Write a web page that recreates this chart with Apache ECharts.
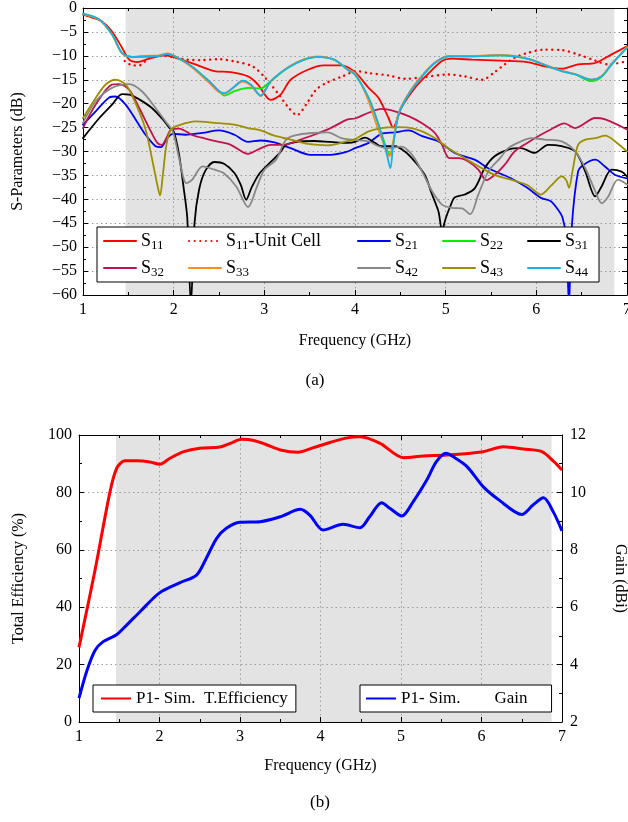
<!DOCTYPE html>
<html>
<head>
<meta charset="utf-8">
<script src="https://cdn.jsdelivr.net/npm/echarts@6/dist/echarts.min.js"></script>
<style>
  html, body { margin: 0; padding: 0; background: #fff; }
  #chart { width: 628px; height: 822px; }
</style>
</head>
<body>
<div id="chart"></div>
<script>
// ---------- (a) S-parameters, [frequency GHz, dB] ----------
const s11 = [[1.0,-1.4],[1.1,-2.0],[1.21,-2.8],[1.32,-4.9],[1.43,-8.3],[1.51,-10.8],[1.6,-11.3],[1.73,-10.6],[1.91,-9.9],[2.02,-10.4],[2.24,-11.8],[2.45,-13.2],[2.63,-13.4],[2.82,-14.3],[2.93,-16.0],[3.07,-19.2],[3.18,-18.1],[3.29,-15.0],[3.48,-12.9],[3.66,-12.0],[3.85,-12.0],[4.0,-13.4],[4.15,-16.7],[4.26,-18.8],[4.37,-23.0],[4.42,-25.0],[4.51,-20.9],[4.66,-16.7],[4.8,-13.9],[4.96,-11.1],[5.07,-10.6],[5.29,-10.8],[5.6,-11.0],[5.9,-11.3],[6.09,-12.2],[6.28,-12.7],[6.46,-11.8],[6.65,-11.5],[6.83,-9.7],[7.0,-8.0]];
const s11Cell = [[1.46,-11.1],[1.55,-12.0],[1.62,-12.0],[1.73,-10.5],[1.9,-10.0],[2.02,-10.4],[2.15,-10.8],[2.3,-10.9],[2.5,-10.7],[2.68,-11.2],[2.87,-12.2],[3.01,-14.6],[3.16,-18.1],[3.27,-20.9],[3.36,-22.4],[3.46,-20.2],[3.57,-17.1],[3.68,-15.7],[3.86,-14.3],[4.02,-13.2],[4.15,-13.6],[4.37,-14.1],[4.55,-14.8],[4.74,-14.5],[5.03,-13.9],[5.21,-14.3],[5.4,-15.0],[5.54,-13.4],[5.65,-11.8],[5.76,-10.4],[5.9,-9.4],[6.09,-8.7],[6.28,-8.8],[6.46,-9.7],[6.65,-11.0],[6.8,-11.8],[7.0,-11.1]];
const s21 = [[1.0,-24.4],[1.14,-21.6],[1.29,-18.7],[1.36,-18.5],[1.47,-20.2],[1.58,-23.3],[1.69,-26.5],[1.8,-28.9],[1.86,-29.1],[1.93,-27.2],[1.99,-26.3],[2.13,-26.5],[2.32,-26.1],[2.5,-25.6],[2.67,-26.5],[2.82,-28.0],[2.96,-27.7],[3.11,-28.1],[3.29,-29.3],[3.51,-30.7],[3.73,-30.7],[3.92,-30.0],[4.0,-29.3],[4.15,-28.2],[4.29,-26.3],[4.44,-26.0],[4.59,-25.6],[4.74,-26.8],[4.92,-27.9],[5.1,-30.3],[5.32,-31.7],[5.47,-33.5],[5.6,-34.6],[5.72,-35.6],[5.9,-37.6],[6.05,-39.7],[6.16,-40.4],[6.24,-42.2],[6.29,-43.9],[6.33,-48.0],[6.36,-62.0],[6.39,-46.0],[6.46,-34.2],[6.52,-32.8],[6.65,-31.7],[6.76,-33.2],[6.87,-34.9],[7.0,-35.6]];
const s22 = [[1.0,-1.2],[1.18,-2.4],[1.32,-5.5],[1.43,-9.4],[1.54,-10.2],[1.69,-10.2],[1.84,-10.0],[1.93,-9.6],[2.02,-10.2],[2.2,-12.2],[2.39,-15.3],[2.5,-17.4],[2.56,-18.3],[2.67,-17.4],[2.82,-16.7],[2.96,-16.8],[3.07,-15.3],[3.26,-12.5],[3.44,-10.8],[3.59,-10.2],[3.77,-10.8],[3.92,-12.9],[4.0,-13.9],[4.15,-18.8],[4.26,-24.4],[4.35,-29.5],[4.39,-30.7],[4.42,-28.5],[4.48,-22.3],[4.59,-18.1],[4.74,-14.3],[4.88,-11.5],[5.03,-10.1],[5.29,-10.1],[5.6,-9.9],[5.76,-10.1],[5.94,-10.8],[6.13,-12.2],[6.28,-13.2],[6.43,-13.9],[6.61,-15.3],[6.72,-14.4],[6.83,-11.8],[7.0,-8.3]];
const s31 = [[1.0,-27.2],[1.18,-23.0],[1.32,-20.2],[1.43,-18.0],[1.51,-18.1],[1.62,-19.1],[1.76,-20.9],[1.88,-23.3],[1.95,-25.0],[2.0,-25.8],[2.06,-30.7],[2.11,-37.6],[2.15,-43.9],[2.19,-62.0],[2.23,-45.0],[2.28,-38.0],[2.35,-34.0],[2.45,-32.2],[2.56,-32.6],[2.67,-34.5],[2.74,-37.0],[2.8,-40.1],[2.86,-37.5],[2.95,-34.5],[3.06,-32.4],[3.17,-30.3],[3.24,-28.6],[3.4,-27.9],[3.55,-27.8],[3.73,-28.0],[3.92,-28.2],[4.0,-28.0],[4.11,-27.1],[4.22,-28.2],[4.29,-28.9],[4.44,-28.9],[4.55,-30.0],[4.66,-32.1],[4.77,-34.9],[4.85,-39.0],[4.92,-42.5],[4.96,-46.5],[5.0,-44.0],[5.05,-41.5],[5.1,-39.6],[5.21,-39.0],[5.32,-37.7],[5.43,-33.5],[5.54,-31.0],[5.69,-29.6],[5.83,-29.3],[5.98,-30.3],[6.13,-28.6],[6.28,-28.9],[6.43,-30.0],[6.54,-34.2],[6.65,-39.4],[6.72,-37.3],[6.83,-33.8],[6.94,-34.2],[7.0,-35.2]];
const s32 = [[1.0,-25.1],[1.14,-20.2],[1.32,-16.0],[1.4,-15.9],[1.51,-17.1],[1.62,-20.9],[1.73,-25.1],[1.82,-28.2],[1.87,-28.6],[1.93,-26.8],[1.97,-25.4],[2.06,-25.2],[2.21,-26.6],[2.35,-27.3],[2.5,-28.0],[2.63,-28.6],[2.82,-30.5],[2.93,-29.6],[3.07,-28.6],[3.22,-28.6],[3.4,-27.5],[3.55,-26.5],[3.73,-25.1],[3.92,-23.3],[4.0,-23.1],[4.15,-21.9],[4.29,-21.1],[4.44,-21.6],[4.59,-22.6],[4.74,-24.1],[4.88,-26.1],[4.96,-28.6],[5.04,-31.4],[5.14,-31.4],[5.25,-32.1],[5.36,-33.8],[5.45,-36.0],[5.54,-34.9],[5.65,-32.8],[5.76,-30.0],[5.9,-28.2],[6.05,-26.5],[6.16,-25.4],[6.31,-24.1],[6.43,-25.1],[6.65,-23.0],[6.76,-23.3],[7.0,-25.4]];
const s33 = [[1.0,-1.3],[1.18,-2.5],[1.32,-5.6],[1.43,-9.5],[1.54,-10.3],[1.69,-10.0],[1.84,-9.9],[1.93,-9.5],[2.02,-10.1],[2.2,-12.4],[2.39,-15.6],[2.5,-17.6],[2.56,-17.9],[2.67,-16.5],[2.76,-15.4],[2.85,-16.2],[2.96,-18.4],[3.07,-15.4],[3.26,-12.4],[3.44,-10.7],[3.59,-10.1],[3.77,-10.8],[3.92,-12.8],[4.0,-13.6],[4.13,-18.5],[4.24,-24.5],[4.33,-29.0],[4.38,-31.0],[4.42,-28.0],[4.48,-22.0],[4.59,-17.9],[4.74,-14.1],[4.88,-11.4],[5.03,-10.0],[5.29,-10.0],[5.6,-9.8],[5.76,-10.0],[5.94,-10.8],[6.13,-12.1],[6.28,-13.1],[6.43,-13.8],[6.61,-15.0],[6.72,-14.2],[6.83,-11.7],[7.0,-8.2]];
const s42 = [[1.0,-24.0],[1.14,-19.5],[1.32,-16.7],[1.51,-15.9],[1.65,-17.4],[1.8,-20.9],[1.91,-23.7],[1.99,-25.8],[2.06,-31.4],[2.14,-36.6],[2.2,-36.0],[2.32,-33.1],[2.45,-33.8],[2.55,-34.5],[2.69,-37.3],[2.82,-41.6],[2.92,-37.3],[3.0,-33.8],[3.13,-31.7],[3.24,-27.5],[3.37,-26.5],[3.55,-26.1],[3.7,-26.0],[3.85,-27.2],[4.0,-27.6],[4.15,-27.9],[4.26,-28.9],[4.37,-29.3],[4.51,-29.0],[4.63,-30.7],[4.74,-34.2],[4.85,-38.3],[4.96,-41.1],[5.07,-41.8],[5.18,-41.9],[5.27,-43.1],[5.36,-39.0],[5.47,-34.2],[5.6,-31.4],[5.69,-29.3],[5.83,-27.9],[5.94,-27.2],[6.09,-27.5],[6.28,-27.9],[6.43,-30.0],[6.54,-33.5],[6.65,-38.3],[6.72,-40.8],[6.79,-39.5],[6.9,-35.9],[7.0,-36.9]];
const s43 = [[1.0,-23.0],[1.14,-18.8],[1.25,-16.0],[1.36,-15.0],[1.47,-16.0],[1.58,-19.9],[1.69,-25.4],[1.76,-31.4],[1.82,-37.0],[1.85,-39.2],[1.88,-35.0],[1.92,-28.6],[1.97,-25.4],[2.06,-24.5],[2.24,-23.7],[2.45,-24.0],[2.67,-24.4],[2.82,-25.1],[2.96,-25.6],[3.11,-26.7],[3.29,-27.5],[3.48,-28.4],[3.7,-28.7],[3.88,-28.0],[4.0,-27.4],[4.15,-25.8],[4.29,-25.1],[4.44,-24.9],[4.59,-25.0],[4.74,-25.8],[4.88,-27.2],[5.03,-29.3],[5.21,-31.4],[5.4,-33.5],[5.54,-34.9],[5.72,-35.9],[5.9,-37.0],[6.05,-39.0],[6.16,-37.2],[6.28,-35.2],[6.33,-36.0],[6.36,-37.6],[6.4,-34.0],[6.46,-28.6],[6.54,-27.5],[6.65,-27.2],[6.76,-26.7],[6.87,-27.9],[7.0,-30.0]];
const s44 = [[1.0,-1.2],[1.18,-2.4],[1.32,-5.5],[1.43,-9.4],[1.54,-10.2],[1.69,-10.1],[1.84,-10.0],[1.93,-9.6],[2.02,-10.2],[2.2,-12.2],[2.39,-15.3],[2.5,-17.4],[2.56,-17.8],[2.67,-16.4],[2.76,-15.2],[2.85,-16.0],[2.96,-18.3],[3.07,-15.3],[3.26,-12.5],[3.44,-10.8],[3.59,-10.2],[3.77,-10.8],[3.92,-12.9],[4.0,-13.9],[4.15,-18.8],[4.26,-24.4],[4.35,-30.5],[4.39,-33.5],[4.42,-29.0],[4.48,-22.3],[4.59,-18.1],[4.74,-14.3],[4.88,-11.5],[5.03,-10.1],[5.29,-10.1],[5.6,-9.9],[5.76,-10.1],[5.94,-10.8],[6.13,-12.2],[6.28,-13.2],[6.43,-13.9],[6.61,-15.0],[6.72,-14.3],[6.83,-11.8],[7.0,-8.3]];

// ---------- (b) efficiency (%) and gain (dBi) ----------
const efficiency = [[1.0,26],[1.2,53],[1.385,80.2],[1.47,88.5],[1.57,91],[1.72,91],[1.88,90.6],[2.0,89.8],[2.13,91.9],[2.3,94.2],[2.5,95.4],[2.75,95.8],[2.88,97.1],[3.02,98.5],[3.17,98.1],[3.33,96.6],[3.5,94.8],[3.72,94],[3.91,95.6],[4.12,97.4],[4.33,99],[4.49,99.4],[4.74,97.1],[5.03,92.1],[5.28,92.7],[5.57,93],[6.02,94.2],[6.27,95.9],[6.52,95.1],[6.75,94.2],[6.9,90.7],[7.0,87.8]];
const gain = [[1.0,2.83],[1.1,3.8],[1.2,4.5],[1.3,4.8],[1.47,5.05],[1.6,5.4],[1.76,5.85],[2.0,6.5],[2.25,6.85],[2.46,7.12],[2.58,7.7],[2.71,8.4],[2.83,8.75],[3.0,8.96],[3.25,8.98],[3.5,9.15],[3.75,9.41],[3.87,9.2],[4.03,8.69],[4.28,8.89],[4.49,8.77],[4.61,9.15],[4.76,9.64],[4.86,9.45],[5.01,9.18],[5.15,9.67],[5.32,10.43],[5.44,11.07],[5.56,11.36],[5.65,11.24],[5.82,10.9],[6.02,10.2],[6.22,9.73],[6.5,9.23],[6.64,9.56],[6.77,9.81],[6.89,9.33],[7.0,8.66]];

// shaded band [start, end] in GHz
const bandA = [1.47, 6.86];
const bandB = [1.46, 6.87];

const FONT = 'Liberation Serif';
const minus = v => (v < 0 ? '\u2212' + (-v) : String(v));

function axisBase(extra) {
  return Object.assign({
    z: 1.5,
    axisLine: { show: true, onZero: false, lineStyle: { color: '#000', width: 1 } },
    axisTick: { show: true, inside: true, length: 5, lineStyle: { color: '#000' } },
    minorTick: { show: true, splitNumber: 2, length: 3, lineStyle: { color: '#000' } },
    axisLabel: { color: '#000', fontFamily: FONT, fontSize: 16, margin: 7 },
    splitLine: { show: false },
    minorSplitLine: { show: false },
    nameTextStyle: { color: '#000', fontFamily: FONT, fontSize: 16 }
  }, extra);
}
const dotted = { show: true, lineStyle: { color: '#9a9a9a', type: [1.5, 3], width: 1 } };

const sub = name => name.replace(/^S(\d\d)(.*)$/, (m, d, rest) => '{s|S}{n|' + d + '}' + (rest ? '{s|' + rest + '}' : ''));
const rich = {
  s: { fontFamily: FONT, fontSize: 18, color: '#000', lineHeight: 22 },
  n: { fontFamily: FONT, fontSize: 13, color: '#000', padding: [9, 0, 0, 0] }
};

function sLine(name, data, color, type, width) {
  return {
    name, type: 'line', data, xAxisIndex: 0, yAxisIndex: 0,
    showSymbol: false, symbol: 'none', smooth: 0.3, z: 3,
    lineStyle: { color, width: width || 1.8, type: type || 'solid', cap: 'round' },
    itemStyle: { color },
    emphasis: { disabled: true }, silent: true
  };
}

const columns = [
  ['S11', 'S32'], ['S11-Unit Cell', 'S33'], ['S21', 'S42'], ['S22', 'S43'], ['S31', 'S44']
];
const colLeft = [103, 188, 357, 442, 527];
const legendsA = columns.map((names, i) => ({
  data: names, orient: 'vertical', left: colLeft[i], top: 232,
  itemWidth: 32, itemHeight: 12, itemGap: 7, padding: 0,
  selectedMode: false, z: 20,
  itemStyle: { opacity: 0 },
  formatter: sub, textStyle: { rich }
}));

const bottomLegend = (name, left, pad) => ({
  data: [name], left, top: 685, orient: 'horizontal',
  itemWidth: 30, itemHeight: 12, selectedMode: false, z: 20,
  itemStyle: { opacity: 0 },
  padding: pad, backgroundColor: '#fff', borderColor: '#000', borderWidth: 1, borderRadius: 0,
  textStyle: { fontFamily: FONT, fontSize: 17, color: '#000' }
});

const effName = 'P1- Sim.  T.Efficiency';
const gainName = 'P1- Sim.\u2003\u2003Gain';

const option = {
  animation: false,
  backgroundColor: '#fff',
  grid: [
    { left: 83, top: 8, width: 544, height: 287, outerBoundsMode: 'none', containLabel: false },
    { left: 79, top: 435, width: 483, height: 287, outerBoundsMode: 'none', containLabel: false }
  ],
  xAxis: [
    axisBase({ type: 'value', gridIndex: 0, min: 1, max: 7, interval: 1, splitLine: dotted,
      name: 'Frequency (GHz)', nameLocation: 'middle', nameGap: 38 }),
    axisBase({ type: 'value', gridIndex: 0, position: 'top', min: 1, max: 7, interval: 1, axisLabel: { show: false } }),
    axisBase({ type: 'value', gridIndex: 1, min: 1, max: 7, interval: 1, splitLine: dotted,
      name: 'Frequency (GHz)', nameLocation: 'middle', nameGap: 36 }),
    axisBase({ type: 'value', gridIndex: 1, position: 'top', min: 1, max: 7, interval: 1, axisLabel: { show: false } })
  ],
  yAxis: [
    axisBase({ type: 'value', gridIndex: 0, min: -60, max: 0, interval: 5, splitLine: dotted,
      axisLabel: { color: '#000', fontFamily: FONT, fontSize: 16, margin: 6, formatter: minus },
      name: 'S-Parameters (dB)', nameLocation: 'middle', nameGap: 57 }),
    axisBase({ type: 'value', gridIndex: 0, position: 'right', min: -60, max: 0, interval: 5, axisLabel: { show: false } }),
    axisBase({ type: 'value', gridIndex: 1, min: 0, max: 100, interval: 20, splitLine: dotted,
      name: 'Total Efficiency (%)', nameLocation: 'middle', nameGap: 52 }),
    axisBase({ type: 'value', gridIndex: 1, position: 'right', min: 2, max: 12, interval: 2,
      axisLabel: { color: '#000', fontFamily: FONT, fontSize: 16, margin: 8 },
      name: 'Gain (dBi)', nameLocation: 'middle', nameGap: 50, nameRotate: -90 })
  ],
  legend: legendsA.concat([
    bottomLegend(effName, 93, [5, 8, 5, 7]),
    bottomLegend(gainName, 360, [5, 24, 5, 5])
  ]),
  graphic: [
    { type: 'rect', z: 15, shape: { x: 97, y: 227, width: 502, height: 55 },
      style: { fill: '#fff', stroke: '#000', lineWidth: 1 } },
    { type: 'text', z: 15, x: 315, y: 381, style: { text: '(a)', font: '17px "Liberation Serif"', fill: '#000', align: 'center', verticalAlign: 'middle' } },
    { type: 'text', z: 15, x: 320, y: 803, style: { text: '(b)', font: '17px "Liberation Serif"', fill: '#000', align: 'center', verticalAlign: 'middle' } }
  ],
  series: [
    { type: 'line', data: [], xAxisIndex: 0, yAxisIndex: 0, z: 1, silent: true,
      markArea: { silent: true, itemStyle: { color: '#e3e3e3' }, data: [[{ xAxis: bandA[0] }, { xAxis: bandA[1] }]] } },
    { type: 'line', data: [], xAxisIndex: 2, yAxisIndex: 2, z: 1, silent: true,
      markArea: { silent: true, itemStyle: { color: '#e3e3e3' }, data: [[{ xAxis: bandB[0] }, { xAxis: bandB[1] }]] } },
    sLine('S11', s11, '#ff0000'),
    sLine('S11-Unit Cell', s11Cell, '#ff0000', [0.1, 5.5], 2.4),
    sLine('S21', s21, '#0000ff'),
    sLine('S22', s22, '#00ee00'),
    sLine('S31', s31, '#000000'),
    sLine('S32', s32, '#c0134e'),
    sLine('S33', s33, '#ff8c1a'),
    sLine('S42', s42, '#888888'),
    sLine('S43', s43, '#9c9000'),
    sLine('S44', s44, '#1cb0e8'),
    { name: effName, type: 'line', data: efficiency, xAxisIndex: 2, yAxisIndex: 2,
      showSymbol: false, symbol: 'none', smooth: 0.3, z: 3, silent: true,
      lineStyle: { color: '#ff0000', width: 3 }, itemStyle: { color: '#ff0000' } },
    { name: gainName, type: 'line', data: gain, xAxisIndex: 2, yAxisIndex: 3,
      showSymbol: false, symbol: 'none', smooth: 0.3, z: 3, silent: true,
      lineStyle: { color: '#0000ff', width: 3 }, itemStyle: { color: '#0000ff' } }
  ]
};

echarts.init(document.getElementById('chart'), null, { renderer: 'canvas' }).setOption(option);
</script>
</body>
</html>
